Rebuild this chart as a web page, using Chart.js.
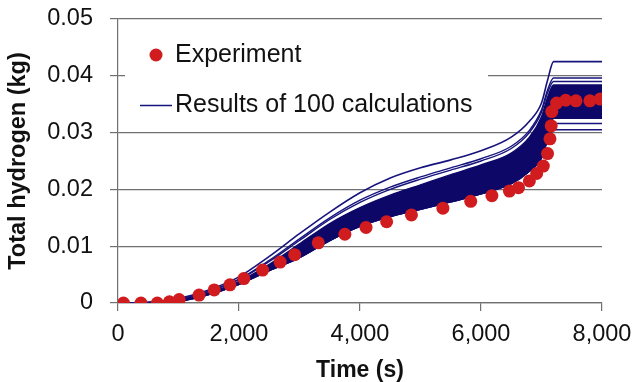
<!DOCTYPE html>
<html>
<head>
<meta charset="utf-8">
<script src="https://cdn.jsdelivr.net/npm/chart.js@4.4.1/dist/chart.umd.min.js"></script>
<style>
  html, body { margin: 0; padding: 0; background: #fff; }
  #wrap { width: 632px; height: 382px; }
</style>
</head>
<body>
<div id="wrap"><canvas id="chart" width="632" height="382"></canvas></div>
<script>
// Experiment points (time s, hydrogen kg)
const expTime = [90, 380, 650, 850, 1010, 1340, 1590, 1850, 2080, 2390, 2680, 2920, 3310, 3750, 4100, 4440, 4850, 5370, 5830, 6180, 6470, 6620, 6800, 6920, 7030, 7100, 7140, 7160, 7170, 7250, 7400, 7570, 7800, 7970];
const expH2 = [0, 0, 0, 0.0002, 0.0006, 0.0014, 0.0023, 0.0032, 0.0043, 0.0058, 0.0072, 0.0085, 0.0106, 0.0121, 0.0133, 0.0143, 0.0155, 0.0167, 0.0179, 0.0189, 0.0197, 0.0203, 0.0215, 0.0228, 0.0241, 0.0263, 0.0289, 0.0312, 0.0337, 0.0352, 0.0357, 0.0356, 0.0356, 0.0359];

// Calculation runs, read at these times
const calcTime = [0, 500, 1000, 1500, 2000, 2500, 3000, 3500, 4000, 4500, 5000, 5500, 6000, 6500, 6800, 7000, 7100, 7200, 8000];
const runHigh   = [0, 0.0001, 0.0008, 0.0023, 0.0046, 0.0082, 0.0122, 0.0160, 0.0194, 0.0220, 0.0238, 0.0252, 0.0268, 0.0292, 0.0320, 0.0352, 0.0392, 0.0425, 0.0425];
const runUpperA = [0, 0.0001, 0.0007, 0.0021, 0.0042, 0.0075, 0.0113, 0.0150, 0.0181, 0.0204, 0.0222, 0.0238, 0.0254, 0.0276, 0.0304, 0.0340, 0.0375, 0.0396, 0.0396];
const runUpperB = [0, 0.0001, 0.0007, 0.0020, 0.0041, 0.0073, 0.0110, 0.0147, 0.0177, 0.0200, 0.0218, 0.0234, 0.0250, 0.0272, 0.0300, 0.0336, 0.0370, 0.0390, 0.0390];
const bandTop   = [0, 0.0001, 0.0006, 0.0018, 0.0038, 0.0068, 0.0104, 0.0140, 0.0168, 0.0190, 0.0208, 0.0226, 0.0243, 0.0264, 0.0292, 0.0328, 0.0362, 0.0384, 0.0384];
const bandBottom = [0, 0, 0.0003, 0.0015, 0.0033, 0.0057, 0.0080, 0.0110, 0.0135, 0.0152, 0.0165, 0.0178, 0.0192, 0.0210, 0.0232, 0.0256, 0.0290, 0.0325, 0.0325];
const runLowA   = [0, 0, 0.0003, 0.0015, 0.0033, 0.0057, 0.0080, 0.0110, 0.0135, 0.0152, 0.0165, 0.0178, 0.0192, 0.0210, 0.0232, 0.0256, 0.0288, 0.0316, 0.0316];
const runLowB   = [0, 0, 0.0003, 0.0015, 0.0033, 0.0057, 0.0080, 0.0110, 0.0135, 0.0152, 0.0165, 0.0178, 0.0192, 0.0210, 0.0232, 0.0255, 0.0285, 0.0305, 0.0305];

const yTicks = [0, 0.01, 0.02, 0.03, 0.04, 0.05];
const xTicks = [0, 2000, 4000, 6000, 8000];

const NAVY = '#0d0868';
const LINE = '#16137c';
const RED = '#d01c1f';
const GRID = '#707070';
const FONT = "'Liberation Sans', Arial, sans-serif";

const pts = (xs, ys) => xs.map((x, i) => ({ x, y: ys[i] }));

function runLine(values, color, width) {
  return {
    type: 'line',
    data: pts(calcTime, values),
    borderColor: color,
    borderWidth: width,
    pointRadius: 0,
    fill: false,
    cubicInterpolationMode: 'monotone',
  };
}

// Legend drawn inside the plot, over a white box like the original
const boxLegend = {
  id: 'boxLegend',
  afterDatasetsDraw(chart) {
    const ctx = chart.ctx;
    ctx.save();
    ctx.fillStyle = '#fff';
    ctx.fillRect(125, 28, 363, 98);
    ctx.font = '25px ' + FONT;
    ctx.textBaseline = 'middle';
    ctx.fillStyle = '#111';
    ctx.beginPath();
    ctx.arc(156, 55, 6.5, 0, Math.PI * 2);
    ctx.fillStyle = RED;
    ctx.fill();
    ctx.fillStyle = '#111';
    ctx.fillText('Experiment', 175, 55);
    ctx.strokeStyle = LINE;
    ctx.lineWidth = 1.5;
    ctx.beginPath();
    ctx.moveTo(140, 105.5);
    ctx.lineTo(172, 105.5);
    ctx.stroke();
    ctx.fillText('Results of 100 calculations', 175, 105);
    ctx.restore();
  },
};

new Chart(document.getElementById('chart'), {
  type: 'scatter',
  data: {
    datasets: [
      {
        label: 'Experiment',
        data: pts(expTime, expH2),
        backgroundColor: RED,
        borderWidth: 0,
        pointRadius: 6.5,
        showLine: false,
      },
      runLine(runHigh, LINE, 1.6),
      runLine(runUpperA, LINE, 1.4),
      runLine(runUpperB, LINE, 1.4),
      Object.assign(runLine(bandTop, NAVY, 1.4), { fill: '+1', backgroundColor: NAVY }),
      runLine(bandBottom, NAVY, 1.4),
      runLine(runLowA, LINE, 1.4),
      runLine(runLowB, LINE, 1.4),
    ],
  },
  options: {
    responsive: false,
    animation: false,
    layout: { padding: 0 },
    plugins: { legend: { display: false }, tooltip: { enabled: false } },
    scales: {
      x: {
        type: 'linear',
        min: 0, max: 8000,
        afterBuildTicks: (s) => { s.ticks = xTicks.map((v) => ({ value: v })); },
        afterFit: (s) => { s.height = 79; s.paddingRight = 30; },
        grid: { drawOnChartArea: false, drawTicks: true, tickLength: 8, color: GRID, lineWidth: 1.2 },
        border: { display: true, color: GRID, width: 1.2 },
        ticks: {
          padding: 9,
          color: '#111',
          font: { family: FONT, size: 23.5 },
          callback: (v) => v.toLocaleString('en-US'),
          maxRotation: 0,
        },
        title: {
          display: true,
          text: 'Time (s)',
          color: '#111',
          font: { family: FONT, size: 23, weight: 'bold', lineHeight: 1 },
          padding: 0,
        },
      },
      y: {
        min: 0, max: 0.05,
        afterBuildTicks: (s) => { s.ticks = yTicks.map((v) => ({ value: v })); },
        afterFit: (s) => { s.width = 118; s.paddingTop = 19; },
        grid: { drawOnChartArea: true, drawTicks: true, tickLength: 8, color: GRID, lineWidth: 1.2 },
        border: { display: true, color: GRID, width: 1.2 },
        ticks: {
          padding: 17,
          color: '#111',
          font: { family: FONT, size: 23.5 },
          callback: (v) => (v === 0 ? '0' : v.toFixed(2)),
        },
        title: {
          display: true,
          text: 'Total hydrogen (kg)',
          color: '#111',
          font: { family: FONT, size: 23.5, weight: 'bold', lineHeight: 1 },
          padding: { top: 7, bottom: 0 },
        },
      },
    },
  },
  plugins: [boxLegend],
});
</script>
</body>
</html>
